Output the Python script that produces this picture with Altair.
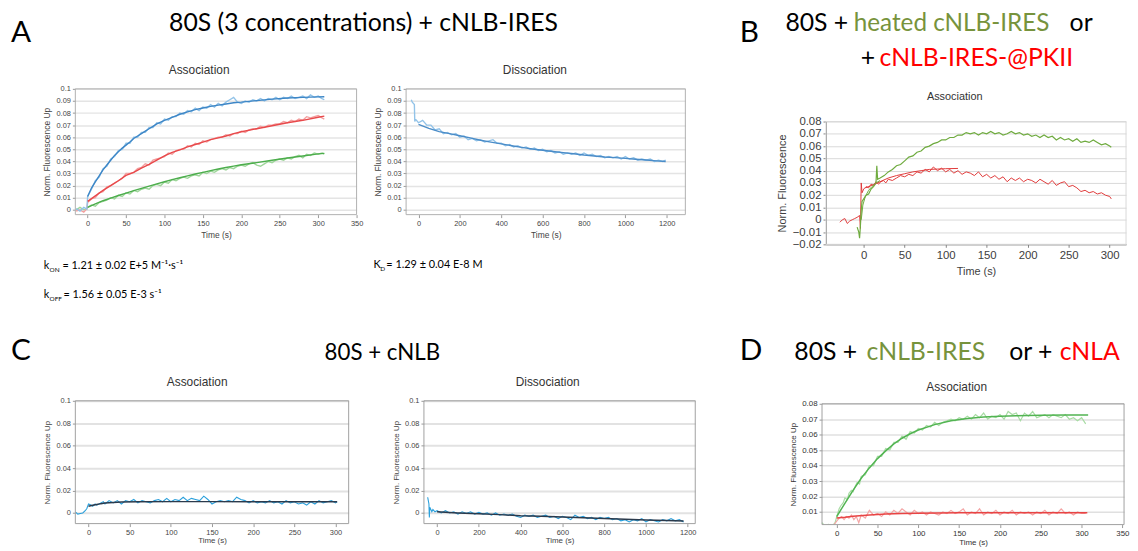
import altair as alt
import pandas as pd

HEAD_FONT = "Lato"
PLOT_FONT = "Liberation Sans"

# ---------------- Panel A : association (3 concentrations) ----------------
A_RAW_T = [-15, -10, -5, -1, 0, 5, 10, 15, 20, 25, 30, 35, 40, 45, 50, 55, 60, 65, 70, 75, 80, 85, 90, 95,
           100, 105, 110, 115, 120, 125, 130, 135, 140, 145, 150, 155, 160, 165, 170, 175, 180, 185, 190, 195,
           200, 205, 210, 215, 220, 225, 230, 235, 240, 245, 250, 255, 260, 265, 270, 275, 280, 285, 290, 295,
           300, 305, 308]
A_BLUE_RAW = [0.001, -0.001, 0.002, 0.0005, 0.011, 0.017, 0.024, 0.027, 0.034, 0.036, 0.042, 0.044, 0.049, 0.050,
              0.055, 0.055, 0.060, 0.060, 0.064, 0.064, 0.068, 0.068, 0.072, 0.071, 0.075, 0.074, 0.077, 0.077,
              0.080, 0.079, 0.082, 0.081, 0.084, 0.082, 0.085, 0.084, 0.087, 0.085, 0.088, 0.086, 0.089, 0.091,
              0.093, 0.089, 0.088, 0.090, 0.089, 0.091, 0.090, 0.092, 0.090, 0.092, 0.091, 0.093, 0.091, 0.093,
              0.092, 0.094, 0.092, 0.093, 0.094, 0.092, 0.095, 0.093, 0.094, 0.092, 0.091]
A_RED_RAW = [-0.001, 0.0, -0.002, 0.001, 0.006, 0.009, 0.010, 0.014, 0.015, 0.019, 0.020, 0.022, 0.024, 0.026,
             0.030, 0.030, 0.031, 0.034, 0.035, 0.038, 0.037, 0.041, 0.042, 0.043, 0.044, 0.047, 0.046, 0.049,
             0.050, 0.050, 0.053, 0.052, 0.055, 0.054, 0.057, 0.056, 0.058, 0.059, 0.060, 0.060, 0.062, 0.061,
             0.063, 0.063, 0.065, 0.064, 0.066, 0.067, 0.067, 0.069, 0.068, 0.070, 0.070, 0.071, 0.071, 0.073,
             0.072, 0.074, 0.073, 0.075, 0.074, 0.077, 0.076, 0.077, 0.078, 0.076, 0.075]
A_GREEN_RAW = [0.0, 0.002, 0.0, 0.001, 0.002, 0.004, 0.003, 0.006, 0.007, 0.008, 0.010, 0.009, 0.012, 0.011,
               0.014, 0.013, 0.016, 0.015, 0.017, 0.018, 0.017, 0.020, 0.021, 0.020, 0.023, 0.022, 0.025, 0.024,
               0.026, 0.027, 0.026, 0.028, 0.029, 0.028, 0.031, 0.030, 0.032, 0.031, 0.033, 0.034, 0.033, 0.035,
               0.034, 0.036, 0.037, 0.036, 0.038, 0.039, 0.037, 0.036, 0.038, 0.040, 0.039, 0.041, 0.042, 0.041,
               0.043, 0.042, 0.044, 0.045, 0.043, 0.046, 0.045, 0.047, 0.046, 0.047, 0.046]
A_BLUE_FIT_T = [0, 5, 10, 15, 20, 25, 30, 35, 40, 45, 50, 55, 60, 65, 70, 75, 80, 85, 90, 95, 100, 110, 120,
                130, 140, 150, 160, 170, 180, 190, 200, 220, 240, 260, 280, 300, 308]
A_BLUE_FIT = [0.011, 0.018, 0.023, 0.028, 0.033, 0.037, 0.041, 0.045, 0.048, 0.051, 0.0535, 0.056, 0.059,
              0.061, 0.063, 0.065, 0.067, 0.069, 0.071, 0.0725, 0.074, 0.0765, 0.079, 0.081, 0.0828, 0.0842,
              0.0855, 0.0866, 0.0875, 0.0885, 0.089, 0.0903, 0.0915, 0.0925, 0.093, 0.0934, 0.0935]
A_FIT_T = [0, 10, 20, 30, 40, 50, 60, 70, 80, 90, 100, 110, 120, 130, 140, 150, 160, 170, 180, 190, 200,
           220, 240, 260, 280, 300, 308]
A_RED_FIT = [0.007, 0.0115, 0.016, 0.020, 0.024, 0.0285, 0.031, 0.0345, 0.0375, 0.041, 0.0445, 0.0475,
             0.0495, 0.052, 0.054, 0.056, 0.058, 0.0595, 0.061, 0.063, 0.0645, 0.067, 0.0695, 0.072, 0.074,
             0.0765, 0.0775]
A_GREEN_FIT = [0.002, 0.0048, 0.0075, 0.0097, 0.0118, 0.0138, 0.0158, 0.0177, 0.0196, 0.0214, 0.0232,
               0.0249, 0.0265, 0.0281, 0.0296, 0.031, 0.0324, 0.0337, 0.035, 0.0361, 0.0372, 0.039, 0.041,
               0.0428, 0.0445, 0.0462, 0.0467]

# ---------------- Panel A : dissociation ----------------
AD_RAW_T = [-35, -30, -25, -20, -18, -15, 0, 20, 40, 60, 80, 100, 120, 140, 160, 180, 200, 220, 240, 260, 280,
            300, 320, 340, 360, 380, 400, 420, 440, 460, 480, 500, 520, 540, 560, 580, 600, 620, 640, 660, 680,
            700, 720, 740, 760, 780, 800, 820, 840, 860, 880, 900, 920, 940, 960, 980, 1000, 1020, 1040, 1060,
            1080, 1100, 1120, 1140, 1160, 1180, 1195]
AD_RAW = [0.091, 0.089, 0.088, 0.087, 0.073, 0.075, 0.072, 0.074, 0.070, 0.070, 0.066, 0.067, 0.063, 0.064,
          0.062, 0.063, 0.060, 0.061, 0.058, 0.059, 0.057, 0.058, 0.056, 0.057, 0.058, 0.055, 0.055, 0.053,
          0.054, 0.052, 0.053, 0.051, 0.052, 0.050, 0.051, 0.049, 0.050, 0.048, 0.049, 0.047, 0.048, 0.046,
          0.047, 0.046, 0.047, 0.045, 0.047, 0.045, 0.046, 0.044, 0.045, 0.043, 0.044, 0.043, 0.044, 0.042,
          0.044, 0.042, 0.043, 0.041, 0.042, 0.041, 0.042, 0.040, 0.041, 0.040, 0.041]
AD_FIT_T = [0, 50, 100, 150, 200, 250, 300, 350, 400, 450, 500, 550, 600, 650, 700, 750, 800, 850, 900, 950,
            1000, 1050, 1100, 1150, 1195]
AD_FIT = [0.0706, 0.0673, 0.0646, 0.063, 0.0612, 0.0595, 0.0575, 0.056, 0.0545, 0.053, 0.0516, 0.0503, 0.0492,
          0.0482, 0.0473, 0.0463, 0.0453, 0.0445, 0.0437, 0.0431, 0.0425, 0.0418, 0.0412, 0.0405, 0.0399]

# ---------------- Panel B ----------------
B_RED_T = [-29, -26, -23, -20, -17, -14, -11, -8, -5, -4, -3, -2, 0, 3, 6, 9, 12, 15, 18, 21, 24, 27, 30, 35,
           40, 45, 50, 55, 60, 65, 70, 75, 80, 85, 90, 95, 100, 105, 110, 115, 120, 125, 130, 135, 140, 145,
           150, 155, 160, 165, 170, 175, 180, 185, 190, 195, 200, 205, 210, 215, 220, 225, 230, 235, 240, 245,
           250, 255, 260, 265, 270, 275, 280, 285, 290, 295, 300, 302]
B_RED_RAW = [-0.002, 0.0, 0.001, -0.003, -0.001, 0.0, 0.001, 0.002, 0.0035, -0.007, 0.030, 0.022, 0.025,
             0.027, 0.026, 0.029, 0.028, 0.031, 0.029, 0.031, 0.032, 0.030, 0.033, 0.032, 0.034, 0.036, 0.035,
             0.037, 0.036, 0.039, 0.038, 0.041, 0.039, 0.043, 0.040, 0.042, 0.039, 0.041, 0.038, 0.040, 0.037,
             0.039, 0.038, 0.036, 0.039, 0.035, 0.037, 0.034, 0.036, 0.033, 0.035, 0.031, 0.034, 0.032, 0.034,
             0.031, 0.033, 0.032, 0.030, 0.033, 0.031, 0.029, 0.032, 0.028, 0.030, 0.031, 0.027, 0.028, 0.026,
             0.023, 0.024, 0.022, 0.023, 0.021, 0.022, 0.020, 0.019, 0.017]
B_GREEN_T = [-8, -6, -5, -4, -3, -2, 0, 3, 6, 9, 12, 15, 16, 17, 20, 25, 30, 35, 40, 45, 50, 55, 60, 65, 70,
             75, 80, 85, 90, 95, 100, 105, 110, 115, 120, 125, 130, 135, 140, 145, 150, 155, 160, 165, 170,
             175, 180, 185, 190, 195, 200, 205, 210, 215, 220, 225, 230, 235, 240, 245, 250, 255, 260, 265,
             270, 275, 280, 285, 290, 295, 300, 302]
B_GREEN_RAW = [-0.006, -0.010, -0.015, -0.005, 0.008, 0.015, 0.017, 0.020, 0.021, 0.025, 0.027, 0.030, 0.044,
               0.033, 0.034, 0.036, 0.039, 0.041, 0.044, 0.045, 0.048, 0.051, 0.052, 0.055, 0.056, 0.059, 0.060,
               0.062, 0.063, 0.065, 0.065, 0.067, 0.067, 0.069, 0.069, 0.071, 0.070, 0.071, 0.069, 0.071, 0.070,
               0.072, 0.070, 0.071, 0.069, 0.070, 0.072, 0.070, 0.071, 0.069, 0.070, 0.068, 0.069, 0.067, 0.069,
               0.067, 0.068, 0.065, 0.067, 0.065, 0.066, 0.064, 0.066, 0.063, 0.064, 0.063, 0.065, 0.063, 0.061,
               0.062, 0.060, 0.059]
B_RED_FIT_T = [2, 10, 20, 30, 40, 50, 60, 70, 80, 90, 100, 115]
B_RED_FIT = [0.026, 0.028, 0.031, 0.034, 0.036, 0.0375, 0.039, 0.040, 0.041, 0.0413, 0.0416, 0.0418]
B_GREEN_FIT_T = [-3, -1, 2, 6, 10, 15, 20]
B_GREEN_FIT = [0.0, 0.012, 0.019, 0.024, 0.027, 0.030, 0.032]

# ---------------- Panel C : association / dissociation ----------------
CA_T = [-16, -13, -10, -7, -4, -2, 0, 3, 5, 8, 10, 13, 15, 18, 20, 25, 30, 35, 40, 45, 50, 55, 60, 65, 70, 75,
        80, 85, 90, 95, 100, 105, 110, 115, 120, 125, 130, 135, 140, 145, 150, 155, 160, 165, 170, 175, 180,
        185, 190, 195, 200, 205, 210, 215, 220, 225, 230, 235, 240, 245, 250, 255, 260, 265, 270, 275, 280,
        285, 290, 295, 300, 302]
CA_RAW = [0.001, -0.001, -0.0005, 0.0, 0.002, 0.004, 0.008, 0.007, 0.006, 0.008, 0.007, 0.008, 0.009, 0.010,
          0.008, 0.011, 0.009, 0.011, 0.008, 0.011, 0.010, 0.012, 0.009, 0.011, 0.010, 0.009, 0.011, 0.012,
          0.010, 0.013, 0.010, 0.012, 0.011, 0.014, 0.011, 0.013, 0.012, 0.011, 0.015, 0.012, 0.008, 0.010,
          0.011, 0.010, 0.011, 0.010, 0.014, 0.012, 0.011, 0.009, 0.011, 0.009, 0.010, 0.009, 0.011, 0.009,
          0.010, 0.008, 0.011, 0.009, 0.010, 0.008, 0.009, 0.007, 0.010, 0.008, 0.011, 0.009, 0.010, 0.011,
          0.009, 0.010]
CA_FIT_T = [0, 5, 10, 15, 20, 30, 40, 60, 100, 150, 200, 250, 302]
CA_FIT = [0.006, 0.0068, 0.0076, 0.0083, 0.0088, 0.0094, 0.0097, 0.0099, 0.0101, 0.0101, 0.0100, 0.0099, 0.0099]

CD_T = [-45, -42, -39, -37, -35, -30, -25, -20, -10, 0, 20, 40, 60, 80, 100, 120, 140, 160, 180, 200, 220, 240,
        260, 280, 300, 320, 340, 360, 380, 400, 420, 440, 460, 480, 500, 520, 540, 560, 580, 600, 620, 640,
        660, 680, 700, 720, 740, 760, 780, 800, 820, 840, 860, 880, 900, 920, 940, 960, 980, 1000, 1020,
        1040, 1060, 1080, 1100, 1120, 1140, 1160, 1180]
CD_RAW = [0.014, 0.011, 0.008, -0.004, 0.005, 0.003, 0.001, 0.003, 0.001, 0.002, 0.0, 0.002, 0.0, 0.001,
          -0.001, 0.001, -0.0005, 0.001, -0.001, 0.0005, -0.001, 0.0, -0.002, 0.0, -0.002, -0.001, -0.002,
          -0.001, -0.003, -0.004, -0.002, -0.003, -0.002, -0.004, -0.003, -0.002, -0.004, -0.003, -0.005,
          -0.003, -0.004, -0.006, -0.002, -0.004, -0.003, -0.005, -0.004, -0.006, -0.004, -0.005, -0.004,
          -0.006, -0.005, -0.007, -0.006, -0.008, -0.006, -0.007, -0.005, -0.008, -0.006, -0.007, -0.008,
          -0.006, -0.007, -0.005, -0.007, -0.006, -0.008]
CD_FIT_T = [0, 100, 200, 300, 400, 500, 600, 700, 800, 900, 1000, 1100, 1180]
CD_FIT = [0.001, 0.0, -0.0008, -0.0015, -0.0025, -0.003, -0.0037, -0.0043, -0.005, -0.0057, -0.0063, -0.0068,
          -0.0072]

# ---------------- Panel D ----------------
D_GREEN_T = [-18, -15, -10, -5, -2, 0, 3, 5, 8, 10, 13, 15, 18, 20, 23, 25, 28, 30, 35, 40, 45, 50, 55, 60, 65,
             70, 75, 80, 85, 90, 95, 100, 105, 110, 115, 120, 125, 130, 135, 140, 145, 150, 155, 160, 165, 170,
             175, 180, 185, 190, 195, 200, 205, 210, 215, 220, 225, 230, 235, 240, 245, 250, 255, 260, 265,
             270, 275, 280, 285, 290, 295, 300, 305]
D_GREEN_RAW = [0.003, 0.001, 0.002, 0.001, 0.003, 0.007, 0.012, 0.014, 0.016, 0.019, 0.018, 0.022, 0.024,
               0.023, 0.027, 0.029, 0.028, 0.033, 0.034, 0.040, 0.040, 0.046, 0.046, 0.051, 0.050, 0.055, 0.055,
               0.059, 0.057, 0.062, 0.061, 0.064, 0.063, 0.066, 0.065, 0.068, 0.066, 0.068, 0.069, 0.070, 0.069,
               0.071, 0.070, 0.072, 0.070, 0.073, 0.071, 0.074, 0.070, 0.072, 0.071, 0.073, 0.070, 0.075, 0.073,
               0.074, 0.069, 0.074, 0.072, 0.075, 0.071, 0.072, 0.073, 0.071, 0.073, 0.072, 0.071, 0.073, 0.070,
               0.071, 0.069, 0.071, 0.067]
D_GREEN_FIT_T = [0, 10, 20, 30, 40, 50, 60, 70, 80, 90, 100, 120, 140, 160, 180, 200, 220, 250, 280, 308]
D_GREEN_FIT = [0.007, 0.0156, 0.024, 0.0318, 0.0385, 0.0445, 0.0495, 0.054, 0.0577, 0.0606, 0.063, 0.0665,
               0.069, 0.0705, 0.0714, 0.072, 0.0723, 0.0726, 0.0727, 0.0728]
D_RED_T = [-18, -15, -12, -9, -6, -3, 0, 3, 6, 9, 12, 15, 18, 21, 24, 27, 30, 35, 40, 45, 50, 55, 60, 65, 70,
           75, 80, 85, 90, 95, 100, 105, 110, 115, 120, 125, 130, 135, 140, 145, 150, 155, 160, 165, 170, 175,
           180, 185, 190, 195, 200, 205, 210, 215, 220, 225, 230, 235, 240, 245, 250, 255, 260, 265, 270, 275,
           280, 285, 290, 295, 300, 305]
D_RED_RAW = [0.002, 0.0, 0.001, 0.0, 0.001, 0.002, 0.004, 0.006, 0.007, 0.005, 0.007, 0.006, 0.008, 0.005,
             0.007, 0.003, 0.008, 0.006, 0.011, 0.008, 0.009, 0.007, 0.010, 0.008, 0.011, 0.009, 0.012, 0.010,
             0.008, 0.011, 0.009, 0.010, 0.008, 0.010, 0.009, 0.008, 0.010, 0.009, 0.011, 0.009, 0.010, 0.012,
             0.008, 0.010, 0.009, 0.012, 0.008, 0.010, 0.009, 0.011, 0.008, 0.010, 0.009, 0.011, 0.008, 0.010,
             0.009, 0.010, 0.008, 0.010, 0.009, 0.011, 0.008, 0.010, 0.009, 0.012, 0.009, 0.010, 0.008, 0.010,
             0.009, 0.009]
D_RED_FIT_T = [0, 10, 20, 40, 60, 80, 100, 150, 200, 250, 307]
D_RED_FIT = [0.006, 0.0065, 0.0072, 0.008, 0.0086, 0.009, 0.0092, 0.0094, 0.0095, 0.0095, 0.0095]


def one(value):
    return pd.DataFrame({"s": [value]})


def text(s, x, y, size, color="black", font=HEAD_FONT, align="left", baseline="alphabetic"):
    return alt.Chart(one(s)).mark_text(
        align=align, baseline=baseline, fontSize=size, font=font, color=color
    ).encode(x=alt.value(x), y=alt.value(y), text="s:N")


def frame(x0, x1, y0, y1, color):
    d = one(0)
    return [
        alt.Chart(d).mark_rule(color=color, strokeWidth=1).encode(x=alt.value(x0), x2=alt.value(x1), y=alt.value(y0)),
        alt.Chart(d).mark_rule(color=color, strokeWidth=1).encode(x=alt.value(x0), x2=alt.value(x1), y=alt.value(y1)),
        alt.Chart(d).mark_rule(color=color, strokeWidth=1).encode(x=alt.value(x0), y=alt.value(y0), y2=alt.value(y1)),
        alt.Chart(d).mark_rule(color=color, strokeWidth=1).encode(x=alt.value(x1), y=alt.value(y0), y2=alt.value(y1)),
    ]


def panel(width, height, xdom, ydom, xr, yr, xvals, yvals, series, extras, st, ytitle="Norm. Fluorescence Up"):
    X = alt.X("t:Q", scale=alt.Scale(domain=xdom, range=xr, nice=False, zero=False),
              axis=alt.Axis(values=xvals, title="Time (s)", grid=False, domain=st["domain"],
                            domainColor=st["domainColor"], tickColor=st["tickColor"], tickSize=3,
                            labelFontSize=st["label"], titleFontSize=st["title"], labelFont=PLOT_FONT,
                            titleFont=PLOT_FONT, labelColor=st["labelColor"], titleColor=st["labelColor"],
                            titleFontWeight="normal", labelPadding=2, titlePadding=st["xtp"],
                            labelFlush=False, labelOverlap=False, format="d"))
    Y = alt.Y("v:Q", scale=alt.Scale(domain=ydom, range=yr, nice=False, zero=False),
              axis=alt.Axis(values=yvals, title=ytitle, grid=True, gridColor=st["grid"],
                            gridWidth=st["gridWidth"], domain=st["domain"], domainColor=st["domainColor"],
                            tickColor=st["tickColor"], tickSize=3, offset=-xr[0],
                            labelFontSize=st["label"], titleFontSize=st["title"], labelFont=PLOT_FONT,
                            titleFont=PLOT_FONT, labelColor=st["labelColor"], titleColor=st["labelColor"],
                            titleFontWeight="normal", labelPadding=2, titlePadding=st["ytp"],
                            labelOverlap=False, format="~g"))
    layers = []
    for ts, vs, color, sw in series:
        layers.append(alt.Chart(pd.DataFrame({"t": ts, "v": vs})).mark_line(
            color=color, strokeWidth=sw, clip=True).encode(x=X, y=Y))
    layers.extend(frame(xr[0], xr[1], yr[1], yr[0], st["frame"]))
    layers.extend(extras)
    return alt.layer(*layers).properties(width=width, height=height)


STYLE_A = dict(label=7.5, title=8.5, labelColor="#444444", grid="#e4e4e4", gridWidth=1.5, domain=False,
               domainColor="#999999", tickColor="#999999", frame="#b0b0b0", xtp=4, ytp=4)
STYLE_B = dict(label=11.5, title=11, labelColor="#404040", grid="#d9d9d9", gridWidth=1, domain=True,
               domainColor="#868686", tickColor="#868686", frame="#d9d9d9", xtp=5, ytp=5)
STYLE_C = dict(label=7.5, title=8, labelColor="#444444", grid="#e2e2e2", gridWidth=2, domain=False,
               domainColor="#999999", tickColor="#999999", frame="#a0a0a0", xtp=1, ytp=4)
STYLE_D = dict(label=8, title=8, labelColor="#333333", grid="#e0e0e0", gridWidth=1.5, domain=False,
               domainColor="#999999", tickColor="#999999", frame="#a0a0a0", xtp=1, ytp=4)

Y_A = [0, 0.01, 0.02, 0.03, 0.04, 0.05, 0.06, 0.07, 0.08, 0.09, 0.1]
Y_B = [-0.02, -0.01, 0, 0.01, 0.02, 0.03, 0.04, 0.05, 0.06, 0.07, 0.08]
Y_C = [0, 0.02, 0.04, 0.06, 0.08, 0.1]
Y_D = [0.01, 0.02, 0.03, 0.04, 0.05, 0.06, 0.07, 0.08]
X_ASSOC = [0, 50, 100, 150, 200, 250, 300, 350]
X_B = [0, 50, 100, 150, 200, 250, 300]
X_DISS = [0, 200, 400, 600, 800, 1000, 1200]

GREEN_HEAD = "#77933c"
RED_HEAD = "#ff0000"
HS = 25

pA = panel(284, 127, [-16, 350], [-0.004, 0.1], [0, 284], [127, 0], X_ASSOC, Y_A, [
    (A_RAW_T, A_GREEN_RAW, "#9fd69b", 1.4), (A_RAW_T, A_RED_RAW, "#f3a0a0", 1.4), (A_RAW_T, A_BLUE_RAW, "#92c3e8", 1.4),
    (A_FIT_T, A_GREEN_FIT, "#4cad4c", 1.4), (A_FIT_T, A_RED_FIT, "#e8494b", 1.4),
    (A_BLUE_FIT_T, A_BLUE_FIT, "#3d86c6", 1.4)], [
    text("A", -65, -47, 30),
    text("80S (3 concentrations) + cNLB-IRES", 291, -58, HS, align="center"),
    text("Association", 125, -19, 12, color="#333333", font=PLOT_FONT, align="center", baseline="middle"),
    text("k", -32, 182, 11), text("ON", -26, 185, 6.5),
    text("= 1.21 ± 0.02 E+5 M⁻¹·s⁻¹", -13, 182, 11),
    text("k", -32, 211, 11), text("OFF", -26, 214, 6.5),
    text("= 1.56 ± 0.05 E-3 s⁻¹", -12, 211, 11),
], STYLE_A)

pAd = panel(282, 127, [-60, 1290], [-0.004, 0.1], [0, 282], [127, 0], X_DISS, Y_A, [
    (AD_RAW_T, AD_RAW, "#92c3e8", 1.4), (AD_FIT_T, AD_FIT, "#4a8cc8", 1.4)], [
    text("Dissociation", 130, -19, 12, color="#333333", font=PLOT_FONT, align="center", baseline="middle"),
    text("K", -33, 181, 11), text("D", -26, 184, 6.5),
    text("= 1.29 ± 0.04 E-8 M", -20, 181, 11),
], STYLE_A)

pB = panel(385, 157, [-46, 320], [-0.02, 0.08], [82, 385], [157, 33], X_B, Y_B, [
    (B_RED_T, B_RED_RAW, "#e03a3a", 1), (B_GREEN_T, B_GREEN_RAW, "#6fab3f", 1.2),
    (B_RED_FIT_T, B_RED_FIT, "#e03a3a", 1), (B_GREEN_FIT_T, B_GREEN_FIT, "#6fab3f", 1)], [
    text("B", -5, -47, 30),
    text("80S +", 41, -58, HS), text("heated cNLB-IRES", 110, -58, 24.5, color=GREEN_HEAD),
    text("or", 328, -58, HS),
    text("+", 117, -23, HS), text("cNLB-IRES-@PKII", 136, -23, HS, color=RED_HEAD),
    text("Association", 212, 8, 11, color="#333333", font=PLOT_FONT, align="center", baseline="middle"),
], STYLE_B, ytitle="Norm. Fluorescence")

pCa = panel(284, 124, [-16, 316], [-0.0095, 0.1], [0, 276], [124, 0], X_B, Y_C, [
    (CA_T, CA_RAW, "#2aa0dc", 1.1), (CA_FIT_T, CA_FIT, "#2b3a4c", 1.5)], [
    text("C", -65, -41, 30),
    text("80S + cNLB", 310, -41, 22.5, align="center"),
    text("Association", 123, -19, 12, color="#333333", font=PLOT_FONT, align="center", baseline="middle"),
], STYLE_C)

pCd = panel(292, 124, [-63, 1236], [-0.0095, 0.1], [18, 292], [124, 0], X_DISS, Y_C, [
    (CD_T, CD_RAW, "#2aa0dc", 1.1), (CD_FIT_T, CD_FIT, "#2b3a4c", 1.5)], [
    text("Dissociation", 143, -19, 12, color="#333333", font=PLOT_FONT, align="center", baseline="middle"),
], STYLE_C)

pD = panel(385, 125, [-18, 352], [0.0018, 0.08], [78, 383], [125, 3], X_ASSOC, Y_D, [
    (D_GREEN_T, D_GREEN_RAW, "#a8dca4", 1.2), (D_RED_T, D_RED_RAW, "#f4a6a6", 1.2),
    (D_GREEN_FIT_T, D_GREEN_FIT, "#52b452", 1.5), (D_RED_FIT_T, D_RED_FIT, "#e84444", 1.5)], [
    text("D", -5, -41, 30),
    text("80S +", 50, -41, HS), text("cNLB-IRES", 123, -41, HS, color=GREEN_HEAD),
    text("or +", 267, -41, HS), text("cNLA", 318, -41, HS, color=RED_HEAD),
    text("Association", 214, -14, 12, color="#333333", font=PLOT_FONT, align="center", baseline="middle"),
], STYLE_D)

chart = alt.concat(pA, pAd, pB, pCa, pCd, pD, columns=3, spacing={"row": 158, "column": 50},
                   bounds="flush", align="each").properties(
    padding={"left": 2, "top": 0, "right": 0, "bottom": 0}
).configure_view(stroke="transparent")

chart.save("out.html", embed_options={"renderer": "svg", "actions": False})
